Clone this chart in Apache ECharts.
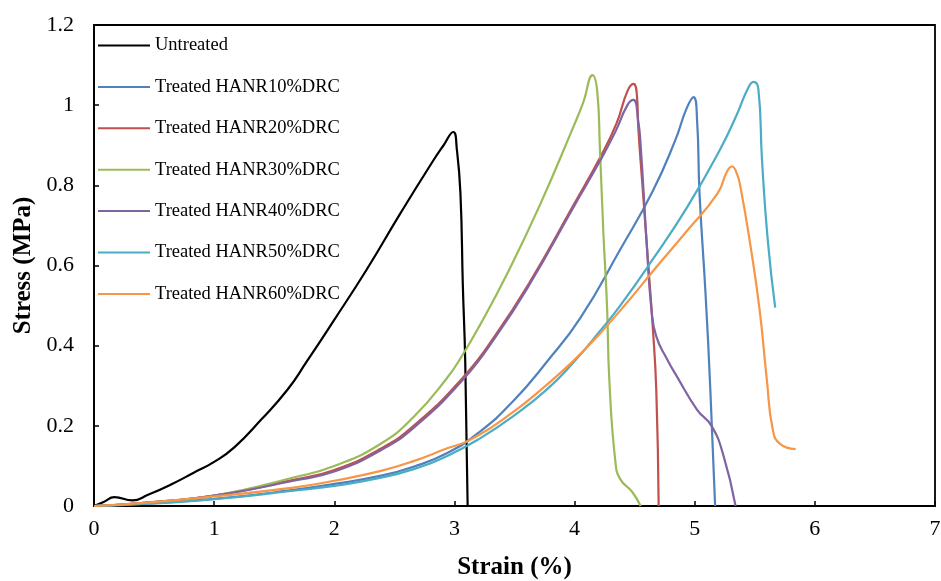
<!DOCTYPE html>
<html>
<head>
<meta charset="utf-8">
<script src="https://cdn.jsdelivr.net/npm/echarts@6/dist/echarts.min.js"></script>
<style>
  html, body { margin: 0; padding: 0; background: #fff; }
  #chart { width: 941px; height: 581px; }
</style>
</head>
<body>
<div id="chart"></div>
<script>
// Stress–strain curves: [strain (%), stress (MPa)]
const seriesNames = [
  'Untreated',
  'Treated HANR10%DRC',
  'Treated HANR20%DRC',
  'Treated HANR30%DRC',
  'Treated HANR40%DRC',
  'Treated HANR50%DRC',
  'Treated HANR60%DRC'
];

const untreated = [
  [0, 0], [0.08, 0.01], [0.17, 0.022], [0.32, 0.014], [0.45, 0.028], [0.65, 0.055],
  [0.83, 0.083], [1.0, 0.11], [1.17, 0.147], [1.39, 0.215], [1.61, 0.29], [1.77, 0.36],
  [1.99, 0.46], [2.27, 0.59], [2.55, 0.73], [2.82, 0.86], [2.91, 0.90], [2.99, 0.933],
  [3.02, 0.89], [3.05, 0.78], [3.07, 0.55], [3.09, 0.36], [3.11, 0]
];

const hanr10 = [
  [0, 0], [0.42, 0.006], [1.0, 0.018], [1.66, 0.04], [2.0, 0.055], [2.38, 0.075],
  [2.66, 0.098], [2.94, 0.132], [3.21, 0.185], [3.49, 0.262], [3.77, 0.36],
  [4.05, 0.47], [4.38, 0.64], [4.65, 0.785], [4.84, 0.914], [4.93, 0.99],
  [4.99, 1.02], [5.02, 0.96], [5.04, 0.78], [5.09, 0.53], [5.13, 0.29], [5.17, 0]
];

const hanr20 = [
  [0, 0], [0.42, 0.008], [1.0, 0.026], [1.66, 0.065], [2.0, 0.09], [2.38, 0.142],
  [2.66, 0.20], [3.07, 0.32], [3.35, 0.43], [3.63, 0.56], [3.99, 0.75],
  [4.21, 0.868], [4.35, 0.955], [4.44, 1.035], [4.49, 1.053], [4.52, 1.02],
  [4.53, 0.946], [4.57, 0.78], [4.61, 0.615], [4.65, 0.45], [4.68, 0.29], [4.70, 0]
];

const hanr30 = [
  [0, 0], [0.42, 0.008], [1.0, 0.026], [1.66, 0.071], [2.0, 0.10], [2.38, 0.154],
  [2.66, 0.222], [2.94, 0.32], [3.07, 0.378], [3.21, 0.45], [3.44, 0.58],
  [3.71, 0.75], [3.99, 0.946], [4.07, 1.005], [4.15, 1.075], [4.19, 1.03],
  [4.21, 0.90], [4.24, 0.68], [4.27, 0.50], [4.29, 0.31], [4.34, 0.11],
  [4.38, 0.067], [4.48, 0.035], [4.55, 0]
];

const hanr40 = [
  [0, 0], [0.42, 0.008], [1.0, 0.026], [1.66, 0.063], [2.0, 0.086], [2.38, 0.138],
  [2.66, 0.195], [3.07, 0.315], [3.35, 0.425], [3.63, 0.555], [3.99, 0.745],
  [4.21, 0.86], [4.34, 0.934], [4.44, 1.0], [4.49, 1.013], [4.53, 0.96],
  [4.55, 0.90], [4.60, 0.657], [4.64, 0.49], [4.68, 0.423], [4.77, 0.366],
  [4.85, 0.324], [5.02, 0.24], [5.14, 0.20], [5.24, 0.125], [5.34, 0]
];

const hanr50 = [
  [0, 0], [0.42, 0.005], [1.0, 0.017], [1.66, 0.038], [2.0, 0.05], [2.38, 0.07],
  [2.66, 0.092], [2.94, 0.125], [3.21, 0.168], [3.49, 0.224], [3.77, 0.291],
  [3.99, 0.358], [4.21, 0.436], [4.38, 0.50], [4.65, 0.615], [4.94, 0.747],
  [5.21, 0.889], [5.35, 0.976], [5.44, 1.04], [5.49, 1.058], [5.53, 1.04],
  [5.56, 0.864], [5.61, 0.657], [5.67, 0.495]
];

const hanr60 = [
  [0, 0], [0.42, 0.008], [1.0, 0.024], [1.66, 0.046], [2.0, 0.063], [2.38, 0.087],
  [2.66, 0.112], [2.94, 0.144], [3.13, 0.165], [3.49, 0.235], [3.77, 0.303],
  [3.99, 0.362], [4.21, 0.43], [4.43, 0.505], [4.65, 0.585], [4.94, 0.688],
  [5.19, 0.78], [5.27, 0.835], [5.31, 0.847], [5.35, 0.83], [5.38, 0.797],
  [5.46, 0.657], [5.54, 0.49], [5.60, 0.316], [5.65, 0.19], [5.71, 0.155], [5.84, 0.142]
];

const curves = [untreated, hanr10, hanr20, hanr30, hanr40, hanr50, hanr60];
const colors = ['#000000', '#4F81BD', '#C0504D', '#9BBB59', '#8064A2', '#4BACC6', '#F79646'];

const xTicks = [0, 1, 2, 3, 4, 5, 6, 7];
const yTicks = [0, 0.2, 0.4, 0.6, 0.8, 1, 1.2];

const serif = '"Liberation Serif", "Times New Roman", serif';

const chart = echarts.init(document.getElementById('chart'), null, { renderer: 'canvas' });

chart.setOption({
  animation: false,
  backgroundColor: '#ffffff',
  grid: {
    left: 94, right: 6, top: 25, bottom: 75,
    outerBoundsMode: 'none',
    containLabel: false,
    show: true, borderColor: '#000', borderWidth: 1.8, backgroundColor: 'transparent'
  },
  legend: {
    orient: 'vertical',
    left: 93,
    top: 31,
    itemWidth: 52,
    itemHeight: 14,
    itemGap: 22.4,
    icon: 'path://M0,6 L52,6 L52,8 L0,8 Z',
    textStyle: { fontFamily: serif, fontSize: 18.5, color: '#000' },
    data: seriesNames
  },
  xAxis: {
    type: 'value',
    min: xTicks[0],
    max: xTicks[xTicks.length - 1],
    interval: 1,
    name: 'Strain (%)',
    nameLocation: 'middle',
    nameGap: 49,
    nameTextStyle: { fontFamily: serif, fontSize: 25, fontWeight: 'bold', color: '#000' },
    axisLine: { lineStyle: { color: '#000', width: 1.8 } },
    axisTick: { show: true, inside: true, length: 5, lineStyle: { color: '#000', width: 1.5 } },
    axisLabel: { fontFamily: serif, fontSize: 22, color: '#000', margin: 12 },
    splitLine: { show: false }
  },
  yAxis: {
    type: 'value',
    min: yTicks[0],
    max: yTicks[yTicks.length - 1],
    interval: 0.2,
    name: 'Stress (MPa)',
    nameLocation: 'middle',
    nameGap: 50,
    nameTextStyle: { fontFamily: serif, fontSize: 25, fontWeight: 'bold', color: '#000' },
    axisLine: { show: true, lineStyle: { color: '#000', width: 1.8 } },
    axisTick: { show: true, inside: true, length: 5, lineStyle: { color: '#000', width: 1.5 } },
    axisLabel: {
      fontFamily: serif, fontSize: 22, color: '#000', margin: 20,
      formatter: v => String(Math.round(v * 10) / 10)
    },
    splitLine: { show: false }
  },
  series: curves.map((data, i) => ({
    name: seriesNames[i],
    type: 'line',
    data: data,
    smooth: 0.5,
    showSymbol: false,
    symbol: 'none',
    lineStyle: { color: colors[i], width: 2.2 },
    itemStyle: { color: colors[i] }
  }))
});
</script>
</body>
</html>
